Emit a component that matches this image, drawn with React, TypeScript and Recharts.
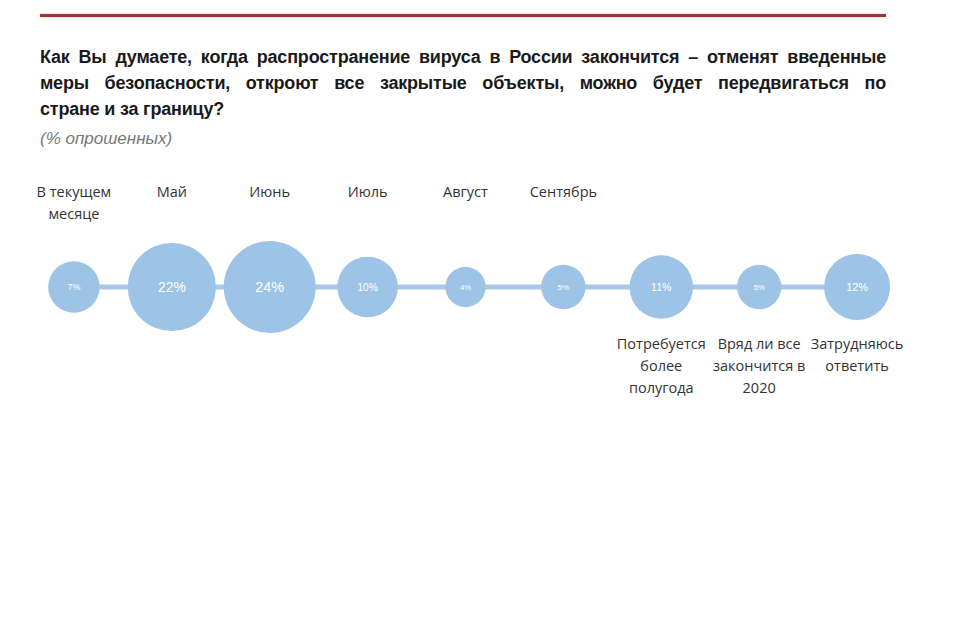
import { ScatterChart, Scatter, XAxis, YAxis, ZAxis } from "recharts";

const categories = [
  "В текущем\nмесяце",
  "Май",
  "Июнь",
  "Июль",
  "Август",
  "Сентябрь",
  "Потребуется\nболее\nполугода",
  "Вряд ли все\nзакончится в\n2020",
  "Затрудняюсь\nответить",
];
const shares = [7, 22, 24, 10, 4, 5, 11, 5, 12];
// first six labels sit above the bubbles, the rest below
const labelAbove = [true, true, true, true, true, true, false, false, false];

const titleLines = [
  "Как Вы думаете, когда распространение вируса в России закончится – отменят введенные",
  "меры безопасности, откроют все закрытые объекты, можно будет передвигаться по",
  "стране и за границу?",
];

const data = categories.map((name, i) => ({
  name,
  level: 1,
  share: shares[i],
  above: labelAbove[i],
}));

const bubbleFill = "#9dc3e6";
const labelFont = "'Open Sans', 'Noto Sans', sans-serif";
const narrowFont = "'Liberation Sans Narrow', 'Liberation Sans', sans-serif";

function Bubble(props: any) {
  const { cx, cy, payload } = props;
  const r = props.width ? props.width / 2 : Math.sqrt((props.size || 0) / Math.PI);
  const lines: string[] = payload.name.split("\n");
  const fs = Math.max(7, r * 0.27 + 2);
  return (
    <g>
      <circle cx={cx} cy={cy} r={r} fill={bubbleFill} />
      <text
        x={cx}
        y={cy}
        textAnchor="middle"
        dominantBaseline="central"
        fill="#ffffff"
        fontSize={fs}
        fontFamily={narrowFont}
      >
        {payload.share}%
      </text>
      <text
        x={cx}
        y={payload.above ? cy - 96 : cy + 56}
        textAnchor="middle"
        fill="#333333"
        fontSize={14.5}
        fontFamily={labelFont}
        dominantBaseline="central"
      >
        {lines.map((l, i) => (
          <tspan key={i} x={cx} dy={i === 0 ? 0 : 22}>
            {l}
          </tspan>
        ))}
      </text>
    </g>
  );
}

export default function App() {
  return (
    <div
      style={{
        position: "relative",
        width: 960,
        height: 637,
        margin: -8,
        background: "#ffffff",
        overflow: "hidden",
      }}
    >
      <div
        style={{
          position: "absolute",
          left: 40,
          top: 14,
          width: 846,
          height: 3,
          background: "#9c3636",
          boxShadow: "0 0 2px #f0a0a0",
        }}
      />
      <div
        style={{
          position: "absolute",
          left: 40,
          top: 44,
          width: 846,
          fontFamily: narrowFont,
          fontWeight: "bold",
          fontSize: 18,
          lineHeight: "26px",
          color: "#1a1a1a",
          letterSpacing: "-0.2px",
        }}
      >
        {titleLines.map((l, i) => (
          <div
            key={i}
            style={{
              textAlign: "justify",
              textAlignLast: i < titleLines.length - 1 ? "justify" : "left",
              whiteSpace: "nowrap",
            }}
          >
            {l}
          </div>
        ))}
      </div>
      <div
        style={{
          position: "absolute",
          left: 40,
          top: 129,
          fontFamily: narrowFont,
          fontStyle: "italic",
          fontSize: 17,
          color: "#777777",
        }}
      >
        (% опрошенных)
      </div>
      <div style={{ position: "absolute", left: 0, top: 0 }}>
        <ScatterChart
          width={960}
          height={574}
          margin={{ top: 0, right: 54, bottom: 0, left: 25 }}
        >
          <XAxis type="category" dataKey="name" hide allowDuplicatedCategory={false} />
          <YAxis type="number" dataKey="level" domain={[0, 2]} hide />
          <ZAxis type="number" dataKey="share" domain={[0, 24]} range={[200, 6650]} />
          <Scatter
            data={data}
            isAnimationActive={false}
            line={{ stroke: "#a9c8e8", strokeWidth: 5 }}
            shape={<Bubble />}
          />
        </ScatterChart>
      </div>
    </div>
  );
}
